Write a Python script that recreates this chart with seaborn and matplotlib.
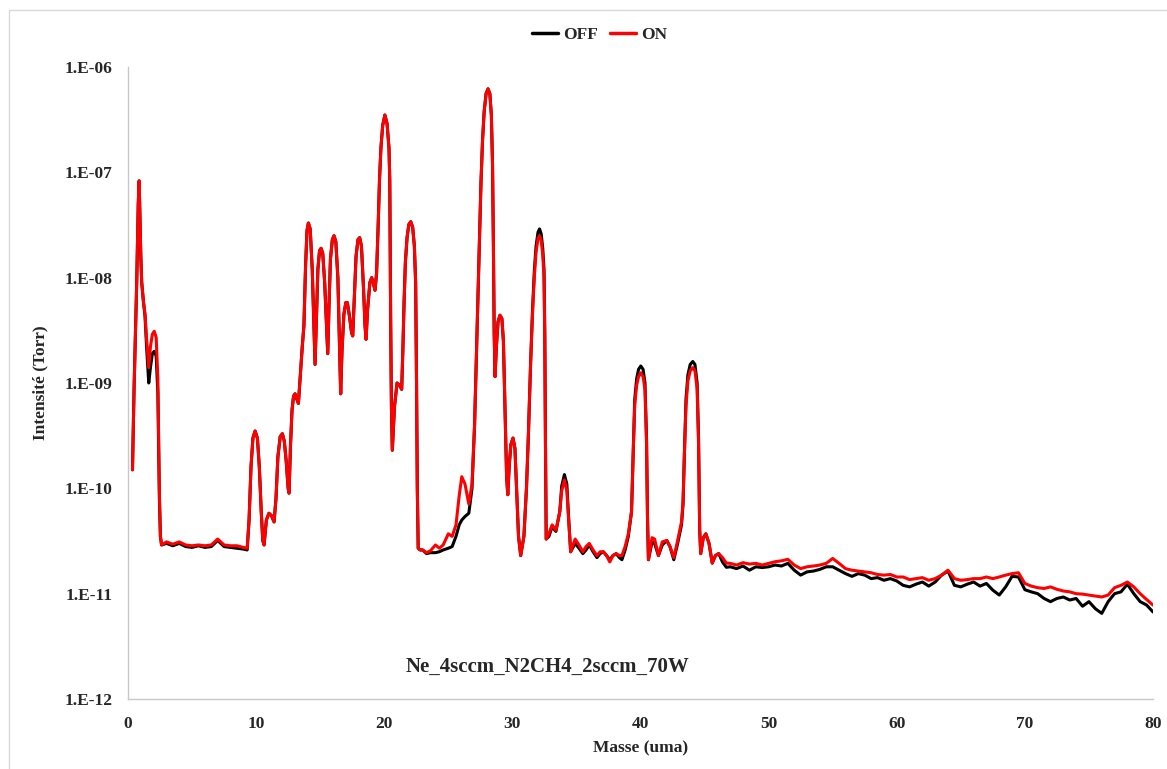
import numpy as np
import pandas as pd
import seaborn as sns
import matplotlib.pyplot as plt
from matplotlib.ticker import FixedLocator, FuncFormatter, NullLocator
from matplotlib.patches import Rectangle

# --- mass spectrum (Torr) ---
# H2 region
mass_h2 = [0.35, 0.47, 0.68, 0.8, 0.87, 0.95, 1.0, 1.07, 1.2, 1.33,
           1.45, 1.62, 1.75, 1.9, 2.05, 2.2, 2.33, 2.45, 2.53, 2.62]
off_h2 = [1.5e-10, 8.5e-10, 9e-9, 5e-8, 8.3e-8, 3e-8, 1.6e-8, 9e-9, 6e-9, 4.3e-9,
          2.2e-9, 1.0e-9, 1.4e-9, 1.9e-9, 2.0e-9, 1.8e-9, 8e-10, 8e-11, 3.5e-11, 2.9e-11]
on_h2 = [1.5e-10, 8.5e-10, 9e-9, 5e-8, 8.3e-8, 3e-8, 1.6e-8, 9e-9, 6e-9, 4.5e-9,
         2.6e-9, 1.4e-9, 2.2e-9, 2.9e-9, 3.1e-9, 2.7e-9, 1.1e-9, 9e-11, 3.5e-11, 2.9e-11]

# flat baseline 3-9 uma (units of 1e-11 Torr)
mass_base = [3.0, 3.5, 4.0, 4.5, 5.0, 5.5, 6.0, 6.5, 7.0, 7.5, 8.0, 8.5, 9.0, 9.3]
off_base = [3.0, 2.85, 3.0, 2.8, 2.75, 2.85, 2.75, 2.8, 3.2, 2.8, 2.75, 2.7, 2.65, 2.6]
on_base = [3.1, 2.95, 3.1, 2.9, 2.85, 2.9, 2.85, 2.9, 3.3, 2.9, 2.85, 2.85, 2.75, 2.7]

# 9.5-22.8 uma, both curves overlap
mass_mid = [9.45, 9.6, 9.75, 9.92, 10.1, 10.25, 10.4, 10.52, 10.62, 10.8,
            11.0, 11.2, 11.4, 11.55, 11.7, 11.88, 12.05, 12.2, 12.35, 12.5,
            12.57, 12.68, 12.8, 12.92, 13.04, 13.18, 13.3, 13.45, 13.6, 13.73,
            13.86, 13.97, 14.08, 14.22, 14.38, 14.5, 14.6, 14.7, 14.82, 14.95,
            15.07, 15.2, 15.35, 15.5, 15.59, 15.68, 15.8, 15.95, 16.08, 16.22,
            16.38, 16.5, 16.6, 16.7, 16.85, 17.0, 17.12, 17.3, 17.45, 17.54,
            17.65, 17.8, 17.95, 18.08, 18.22, 18.38, 18.5, 18.58, 18.7, 18.88,
            19.02, 19.15, 19.28, 19.4, 19.52, 19.63, 19.74, 19.88, 20.05, 20.22,
            20.37, 20.43, 20.5, 20.56, 20.63, 20.8, 21.0, 21.2, 21.36, 21.45,
            21.55, 21.65, 21.78, 21.92, 22.07, 22.22, 22.35, 22.45, 22.52, 22.58,
            22.65, 22.8]
val_mid = [5e-11, 1.6e-10, 3e-10, 3.5e-10, 3e-10, 1.6e-10, 6e-11, 3.2e-11, 2.9e-11, 5e-11,
           5.8e-11, 5.5e-11, 4.8e-11, 8e-11, 2e-10, 3.1e-10, 3.3e-10, 2.8e-10, 1.8e-10, 1e-10,
           9e-11, 2.5e-10, 5.5e-10, 7.5e-10, 7.9e-10, 7e-10, 6.4e-10, 1.2e-9, 2.2e-9, 3.5e-9,
           1.3e-8, 2.8e-8, 3.3e-8, 2.9e-8, 1.2e-8, 4e-9, 1.5e-9, 4e-9, 1.2e-8, 1.8e-8,
           1.9e-8, 1.7e-8, 9e-9, 3.5e-9, 1.9e-9, 5e-9, 1.5e-8, 2.3e-8, 2.5e-8, 2.2e-8,
           1e-8, 2.5e-9, 7.9e-10, 2e-9, 4.5e-9, 5.8e-9, 5.8e-9, 4.2e-9, 3.0e-9, 2.8e-9,
           6e-9, 1.6e-8, 2.3e-8, 2.4e-8, 2e-8, 8e-9, 3.5e-9, 2.6e-9, 5e-9, 9e-9,
           1.0e-8, 8.8e-9, 7.6e-9, 1.1e-8, 3e-8, 8.5e-8, 1.7e-7, 2.8e-7, 3.5e-7, 2.9e-7,
           1.7e-7, 8.5e-8, 4e-9, 6e-10, 2.3e-10, 6e-10, 1e-9, 9.5e-10, 8.7e-10, 2e-9,
           6e-9, 1.4e-8, 2.4e-8, 3.2e-8, 3.4e-8, 3e-8, 2e-8, 9e-9, 1e-9, 1e-10,
           2.7e-11, 2.6e-11]

# 23-46.7 uma
mass_co = [23.0, 23.3, 23.6, 24.0, 24.3, 24.6, 25.0, 25.3, 25.6, 25.85,
           26.05, 26.3, 26.6, 26.85, 27.05, 27.2, 27.33, 27.45, 27.55, 27.67,
           27.8, 27.95, 28.1, 28.24, 28.36, 28.45, 28.52, 28.58, 28.65, 28.75,
           28.88, 29.03, 29.18, 29.3, 29.42, 29.55, 29.64, 29.75, 29.88, 30.05,
           30.2, 30.33, 30.48, 30.65, 30.9, 31.1, 31.25, 31.42, 31.57, 31.72,
           31.85, 32.0, 32.12, 32.25, 32.37, 32.47, 32.53, 32.58, 32.64, 32.85,
           33.1, 33.4, 33.7, 33.85, 34.06, 34.25, 34.4, 34.55, 34.9, 35.2,
           35.5, 35.75, 36.0, 36.3, 36.6, 36.85, 37.1, 37.35, 37.6, 37.85,
           38.1, 38.35, 38.55, 38.8, 39.05, 39.3, 39.42, 39.55, 39.7, 39.85,
           40.02, 40.2, 40.35, 40.47, 40.55, 40.62, 40.9, 41.1, 41.4, 41.7,
           42.05, 42.3, 42.6, 42.9, 43.2, 43.32, 43.42, 43.55, 43.7, 43.88,
           44.08, 44.25, 44.42, 44.53, 44.62, 44.7, 44.9, 45.1, 45.35, 45.6,
           45.85, 46.1, 46.4, 46.7]
off_co = [2.6e-11, 2.4e-11, 2.45e-11, 2.45e-11, 2.5e-11, 2.6e-11, 2.7e-11, 2.8e-11, 3.5e-11, 4.5e-11,
          5.0e-11, 5.4e-11, 5.8e-11, 1.0e-10, 4e-10, 2e-9, 8e-9, 3e-8, 8e-8, 2e-7,
          3.8e-7, 5.6e-7, 6.2e-7, 5.6e-7, 3.5e-7, 1.2e-7, 2e-8, 3e-9, 1.15e-9, 2.2e-9,
          3.8e-9, 4.4e-9, 4.1e-9, 2.5e-9, 6e-10, 1.3e-10, 8.7e-11, 1.6e-10, 2.6e-10, 3e-10,
          2.4e-10, 1e-10, 3.5e-11, 2.3e-11, 3.5e-11, 1e-10, 3.2e-10, 1.5e-9, 4.9e-9, 1.2e-8,
          2.0e-8, 2.7e-8, 2.9e-8, 2.6e-8, 1.9e-8, 1.2e-8, 3e-9, 3e-10, 3.3e-11, 3.5e-11,
          4.3e-11, 3.9e-11, 6e-11, 1.05e-10, 1.35e-10, 1.1e-10, 5e-11, 2.5e-11, 3.0e-11, 2.7e-11,
          2.4e-11, 2.6e-11, 2.9e-11, 2.5e-11, 2.2e-11, 2.4e-11, 2.5e-11, 2.3e-11, 2.1e-11, 2.3e-11,
          2.4e-11, 2.2e-11, 2.1e-11, 2.6e-11, 3.5e-11, 6e-11, 2e-10, 7e-10, 1.1e-9, 1.35e-9,
          1.45e-9, 1.35e-9, 1.0e-9, 3e-10, 5e-11, 2.1e-11, 3.1e-11, 3.0e-11, 2.3e-11, 2.9e-11,
          3.2e-11, 2.8e-11, 2.1e-11, 3.0e-11, 4.5e-11, 7e-11, 2e-10, 7e-10, 1.2e-9, 1.5e-9,
          1.6e-9, 1.5e-9, 1.0e-9, 3e-10, 4e-11, 2.4e-11, 3.4e-11, 3.7e-11, 3.0e-11, 1.95e-11,
          2.3e-11, 2.4e-11, 2.0e-11, 1.78e-11]
on_co = [2.6e-11, 2.45e-11, 2.55e-11, 2.9e-11, 2.7e-11, 2.9e-11, 3.7e-11, 3.5e-11, 4.5e-11, 8.5e-11,
         1.29e-10, 1.1e-10, 7.1e-11, 1.1e-10, 4e-10, 2e-9, 8e-9, 3e-8, 8e-8, 2e-7,
         3.8e-7, 5.6e-7, 6.2e-7, 5.6e-7, 3.5e-7, 1.2e-7, 2e-8, 3e-9, 1.15e-9, 2.2e-9,
         3.8e-9, 4.4e-9, 4.1e-9, 2.5e-9, 6e-10, 1.3e-10, 8.7e-11, 1.6e-10, 2.6e-10, 3e-10,
         2.4e-10, 1e-10, 3.5e-11, 2.3e-11, 3.5e-11, 1e-10, 3.2e-10, 1.5e-9, 4.5e-9, 1.05e-8,
         1.75e-8, 2.35e-8, 2.5e-8, 2.25e-8, 1.65e-8, 1.0e-8, 2.6e-9, 3e-10, 3.3e-11, 3.7e-11,
         4.5e-11, 4.0e-11, 6e-11, 9.5e-11, 1.2e-10, 9.5e-11, 4.8e-11, 2.5e-11, 3.3e-11, 2.9e-11,
         2.5e-11, 2.8e-11, 3.0e-11, 2.6e-11, 2.3e-11, 2.5e-11, 2.5e-11, 2.3e-11, 2.0e-11, 2.3e-11,
         2.4e-11, 2.3e-11, 2.3e-11, 2.8e-11, 3.7e-11, 6e-11, 2e-10, 6.2e-10, 9.5e-10, 1.15e-9,
         1.25e-9, 1.15e-9, 8.7e-10, 2.7e-10, 5e-11, 2.1e-11, 3.4e-11, 3.3e-11, 2.3e-11, 3.1e-11,
         3.2e-11, 2.8e-11, 2.2e-11, 3.2e-11, 4.8e-11, 7.5e-11, 2e-10, 6e-10, 1.05e-9, 1.3e-9,
         1.4e-9, 1.3e-9, 8.8e-10, 2.7e-10, 4e-11, 2.4e-11, 3.4e-11, 3.7e-11, 3.0e-11, 1.95e-11,
         2.3e-11, 2.4e-11, 2.2e-11, 1.95e-11]

# noisy tail 47-80 uma, every 0.5 uma (units of 1e-11 Torr)
mass_tail = np.arange(47, 80.5, 0.5)
off_tail = [1.80, 1.73, 1.83, 1.67, 1.80, 1.77, 1.80, 1.87, 1.83, 1.94,
            1.67, 1.50, 1.61, 1.64, 1.70, 1.80, 1.80, 1.67, 1.55, 1.46,
            1.55, 1.50, 1.39, 1.42, 1.34, 1.39, 1.32, 1.20, 1.16, 1.23,
            1.29, 1.18, 1.29, 1.50, 1.64, 1.20, 1.16, 1.23, 1.29, 1.18,
            1.25, 1.08, 0.97, 1.16, 1.46, 1.44, 1.09, 1.04, 1.00, 0.90,
            0.84, 0.90, 0.93, 0.87, 0.90, 0.76, 0.84, 0.72, 0.65, 0.84,
            1.00, 1.04, 1.23, 1.00, 0.84, 0.78, 0.67]
on_tail = [1.94, 1.87, 1.97, 1.91, 1.94, 1.87, 1.94, 2.01, 2.05, 2.12,
           1.87, 1.73, 1.80, 1.83, 1.87, 1.94, 2.16, 1.94, 1.73, 1.67,
           1.64, 1.61, 1.58, 1.52, 1.50, 1.52, 1.44, 1.44, 1.36, 1.39,
           1.42, 1.34, 1.39, 1.50, 1.67, 1.39, 1.34, 1.36, 1.39, 1.39,
           1.44, 1.39, 1.44, 1.50, 1.55, 1.58, 1.25, 1.18, 1.14, 1.12,
           1.16, 1.10, 1.06, 1.04, 1.00, 0.99, 0.97, 0.95, 0.93, 0.97,
           1.14, 1.20, 1.29, 1.16, 1.00, 0.88, 0.78]

y_ticks = [1e-12, 1e-11, 1e-10, 1e-9, 1e-8, 1e-7, 1e-6]
x_ticks = [0, 10, 20, 30, 40, 50, 60, 70, 80]

mass = np.concatenate([mass_h2, mass_base, mass_mid, mass_co, mass_tail])
off = np.concatenate([off_h2, np.array(off_base) * 1e-11, val_mid, off_co, np.array(off_tail) * 1e-11])
on = np.concatenate([on_h2, np.array(on_base) * 1e-11, val_mid, on_co, np.array(on_tail) * 1e-11])
assert len(mass) == len(off) == len(on)

df = pd.DataFrame({"Masse": mass, "OFF": off, "ON": on})
df = df.melt(id_vars="Masse", var_name="serie", value_name="I")

sns.set_theme(style="white")
plt.rcParams["font.family"] = ["Liberation Serif", "DejaVu Serif"]
plt.rcParams["font.weight"] = "bold"

fig = plt.figure(figsize=(11.67, 7.69), dpi=100)
ax = fig.add_axes([128 / 1167, 1 - 699 / 769, 1025 / 1167, 632 / 769])

sns.lineplot(data=df, x="Masse", y="I", hue="serie", palette={"OFF": "black", "ON": "red"},
             estimator=None, sort=False, linewidth=2.2, ax=ax)

ax.set_yscale("log")
ax.set_ylim(1e-12, 1e-6)
ax.set_xlim(0, 80)
ax.yaxis.set_major_locator(FixedLocator(y_ticks))
ax.yaxis.set_minor_locator(NullLocator())
ax.yaxis.set_major_formatter(FuncFormatter(lambda v, p: "1.E%03d" % round(np.log10(v))))
ax.xaxis.set_major_locator(FixedLocator(x_ticks))
ax.tick_params(axis="both", length=0, labelsize=12.5)
ax.tick_params(axis="y", pad=11)
ax.tick_params(axis="x", pad=12)
for lab in ax.get_xticklabels() + ax.get_yticklabels():
    lab.set_fontweight("bold")

for s in ["top", "right"]:
    ax.spines[s].set_visible(False)
for s in ["left", "bottom"]:
    ax.spines[s].set_color("#c8c8c8")
    ax.spines[s].set_linewidth(1)

ax.set_xlabel("Masse (uma)", fontsize=12.5, fontweight="bold")
ax.set_ylabel("Intensité (Torr)", fontsize=12.5, fontweight="bold")
ax.xaxis.set_label_coords(0.5, -0.065)
ax.yaxis.set_label_coords(-0.078, 0.5)

fig.text(548 / 1167, 1 - 667 / 769, "Ne_4sccm_N2CH4_2sccm_70W", ha="center", va="center",
         fontsize=15, fontweight="bold")

handles, labels = ax.get_legend_handles_labels()
leg = ax.legend(handles, labels, loc="center", bbox_to_anchor=(0.514, 1 - 35 / 769),
                bbox_transform=fig.transFigure, ncol=2, frameon=False, handlelength=1.5,
                handletextpad=0.3, columnspacing=0.7, prop={"weight": "bold", "size": 12.5})
for h in leg.get_lines():
    h.set_linewidth(2.5)

# light chart-area border
fig.patches.append(Rectangle((9 / 1167, -0.05), 1.2, 1 - 10 / 769 + 0.05, transform=fig.transFigure,
                             fill=False, edgecolor="#d9d9d9", linewidth=1))

fig.savefig("out.png", dpi=100)
